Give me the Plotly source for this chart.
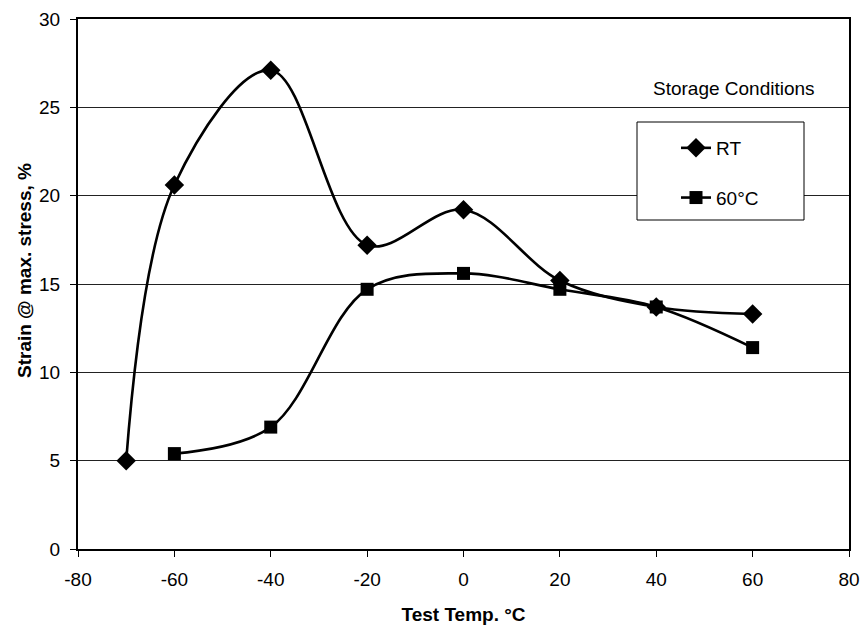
import plotly.graph_objects as go

temp_rt = [-70, -60, -40, -20, 0, 20, 40, 60]
strain_rt = [5.0, 20.6, 27.1, 17.2, 19.2, 15.2, 13.7, 13.3]
temp_60 = [-60, -40, -20, 0, 20, 40, 60]
strain_60 = [5.4, 6.9, 14.7, 15.6, 14.7, 13.7, 11.4]

x_ticks = [-80, -60, -40, -20, 0, 20, 40, 60, 80]
x_tick_labels = ["-80", "-60", "-40", "-20", "0", "20", "40", "60", "80"]
y_ticks = [0, 5, 10, 15, 20, 25, 30]

font_family = "Liberation Sans, Arial, sans-serif"

# page body has an 8px margin; work in screen pixels and convert
OFF = 8
W, H = 868 - 2 * OFF, 633 - 2 * OFF
L, T = 78 - OFF, 19 - OFF
R = (868 - OFF) - 849
B = (633 - OFF) - 549
pw, ph = W - L - R, H - T - B


def px_x(p):
    return (p - OFF - L) / pw


def px_y(p):
    return (H - B - (p - OFF)) / ph


fig = go.Figure()
fig.add_trace(go.Scatter(
    x=temp_rt, y=strain_rt, name="RT", mode="lines+markers",
    line=dict(color="black", width=2.6, shape="spline", smoothing=1.0),
    marker=dict(symbol="diamond", size=15, color="black"),
    legendgroup="a",
))
fig.add_trace(go.Scatter(
    x=temp_60, y=strain_60, name="60°C", mode="lines+markers",
    line=dict(color="black", width=2.6, shape="spline", smoothing=1.0),
    marker=dict(symbol="square", size=13, color="black"),
    legendgroup="b",
))

fig.update_layout(
    width=W, height=H,
    margin=dict(l=L, r=R, t=T, b=B, pad=0),
    paper_bgcolor="white", plot_bgcolor="white",
    font=dict(family=font_family, color="black", size=19),
    showlegend=True,
    legend=dict(
        x=px_x(676), y=px_y(129), xanchor="left", yanchor="top",
        bgcolor="rgba(0,0,0,0)", borderwidth=0,
        font=dict(size=19), tracegroupgap=22,
    ),
    xaxis=dict(
        range=[-80, 80], tickvals=x_ticks, ticktext=x_tick_labels,
        ticks="outside", ticklen=6,
        tickcolor="black", showgrid=False, zeroline=False, automargin=False,
        showline=True, linecolor="black", linewidth=2, mirror=True,
        tickfont=dict(size=19), ticklabelstandoff=6, ticklabeloverflow="allow",
        title=dict(text="<b>Test Temp. °C</b>", font=dict(size=19), standoff=22),
    ),
    yaxis=dict(
        range=[0, 30], tickvals=y_ticks, ticks="outside", ticklen=6,
        tickcolor="black", showgrid=True, gridcolor="#222", gridwidth=1,
        zeroline=False, showline=True, linecolor="black", linewidth=2, mirror=True,
        tickfont=dict(size=19), ticklabelstandoff=6, automargin=False,
        ticklabeloverflow="allow",
    ),
    shapes=[dict(
        type="rect", xref="paper", yref="paper",
        x0=px_x(637), x1=px_x(804), y0=px_y(220), y1=px_y(122),
        line=dict(color="black", width=1), fillcolor="white", layer="above",
    )],
    annotations=[
        dict(
            text="Storage Conditions", x=px_x(733.5), y=px_y(89),
            xref="paper", yref="paper", xanchor="center", yanchor="middle",
            showarrow=False, font=dict(size=19, color="black"),
        ),
        dict(
            text="<b>Strain @ max. stress, %</b>", x=px_x(24), y=px_y(271),
            xref="paper", yref="paper", xanchor="center", yanchor="middle",
            textangle=-90, showarrow=False, font=dict(size=19, color="black"),
        ),
    ],
)

fig.write_html("out.html")
